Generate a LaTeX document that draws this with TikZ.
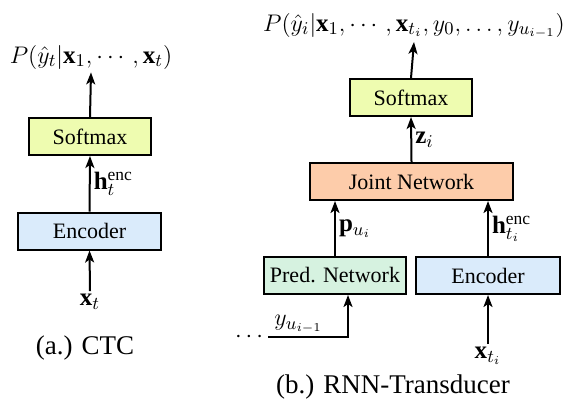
\documentclass[tikz,border=0pt]{standalone}
\usepackage{amsmath}
\usepackage{fontspec}
\setmainfont{Liberation Serif}
\usetikzlibrary{arrows.meta}
\definecolor{smcol}{HTML}{EEFCB0}
\definecolor{enccol}{HTML}{DAEBFB}
\definecolor{jncol}{HTML}{FDCCAA}
\definecolor{pncol}{HTML}{D6F2E0}
\tikzset{
  block/.style={draw=black, line width=1pt, minimum height=18.5pt, inner sep=0pt, font=\fontsize{11}{13}\selectfont},
  lbl/.style={inner sep=1.5pt, font=\fontsize{12.5}{14}\selectfont},
  capt/.style={font=\fontsize{13.5}{16}\selectfont},
  arr/.style={->, line width=1pt}
}
\begin{document}
\begin{tikzpicture}[x=0.5pt, y=-0.5pt, >={Stealth[length=6pt, width=4.5pt, inset=1.5pt]}]
  \useasboundingbox (0,0) rectangle (581,403);
  % (a.) CTC
  \node[block, fill=smcol, minimum width=61pt] (smL) at (90,136.5) {Softmax};
  \node[block, fill=enccol, minimum width=71.5pt] (encL) at (89.5,231) {Encoder};
  \node[lbl] (PL) at (91,57) {$P(\hat{y}_t|\mathbf{x}_1,\cdots,\mathbf{x}_t)$};
  \node[lbl] (xL) at (90,302) {$\mathbf{x}_t$};
  \draw[arr] (smL.north) -- (PL.south);
  \draw[arr] (encL.north) -- (smL.south) node[lbl, midway, right] (hL) {$\mathbf{h}_t^{\text{enc}}$};
  \draw[arr] (xL.north) -- (encL.south);
  \node[capt] (captL) at (85,348) {(a.) CTC};
  % (b.) RNN-Transducer
  \node[block, fill=smcol, minimum width=61pt] (smR) at (411,97.5) {Softmax};
  \node[block, fill=jncol, minimum width=101.5pt] (jn) at (411.5,181.5) {Joint Network};
  \node[block, fill=pncol, minimum width=71pt] (pn) at (335,275.5) {Pred. Network};
  \node[block, fill=enccol, minimum width=72pt] (encR) at (488,275.5) {Encoder};
  \node[lbl] (PR) at (414,26) {$P(\hat{y}_i|\mathbf{x}_1,\cdots,\mathbf{x}_{t_i},y_0,\ldots,y_{u_{i-1}})$};
  \node[lbl] (xR) at (488,356) {$\mathbf{x}_{t_i}$};
  \node[lbl, inner sep=0.5pt] (dots) at (251,337) {$\cdots$};
  \coordinate (turn) at (348,337);
  \draw[arr] (smR.north) -- (PR.south);
  \draw[arr] (jn.north) -- (smR.south) node[lbl, midway, right] (zR) {$\mathbf{z}_i$};
  \draw[arr] (pn.north) -- (pn.north |- jn.south) node[lbl, midway, right] (pR) {$\mathbf{p}_{u_i}$};
  \draw[arr] (encR.north) -- (encR.north |- jn.south) node[lbl, midway, right] (hR) {$\mathbf{h}_{t_i}^{\text{enc}}$};
  \draw[arr] (xR.north) -- (encR.south);
  \draw[arr] (dots.east) -- (turn) node[lbl, pos=0.38, above] (yR) {$y_{u_{i-1}}$} -- (turn |- pn.south);
  \node[capt] (captR) at (393,387) {(b.) RNN-Transducer};
\end{tikzpicture}
\end{document}
